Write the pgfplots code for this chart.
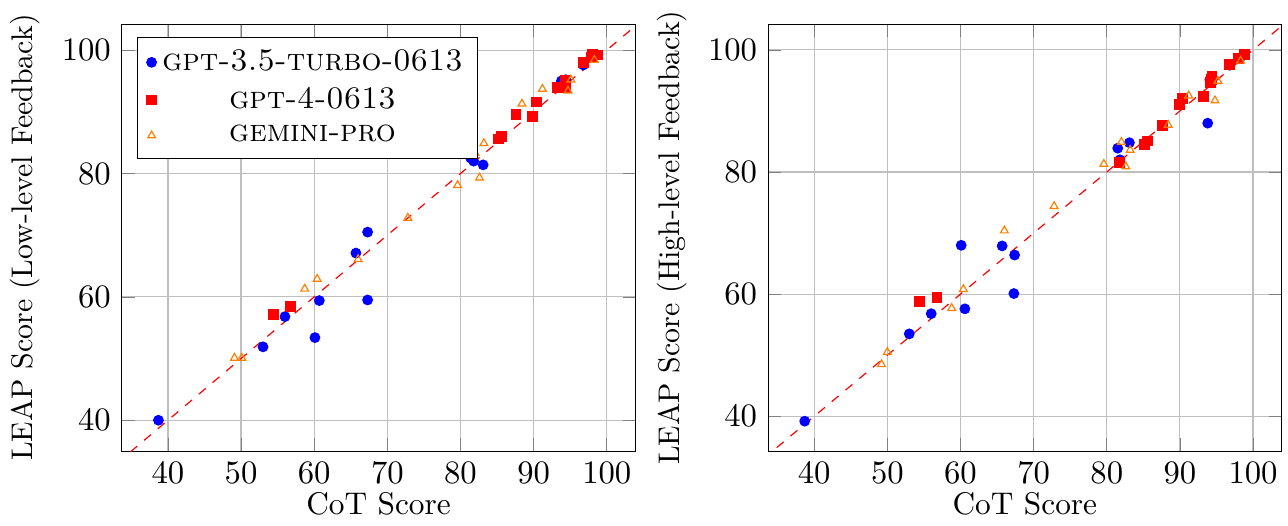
\documentclass[border=0pt]{standalone}
\usepackage{pgfplots}
\pgfplotsset{compat=1.18}

\pgfplotsset{
  leap/.style={
    scale only axis,
    width=172pt, height=143pt,
    xmin=33.7, xmax=103.9,
    xtick={40,50,...,100},
    ytick={40,60,80,100},
    grid=major,
    xlabel={CoT Score},
    xlabel style={yshift=4pt},
    ylabel style={font=\fontsize{10}{12}\selectfont},
    legend cell align=center,
  },
  gpt35/.style={only marks, mark=*, mark size=1.6pt, color=blue},
  gpt4/.style={only marks, mark=square*, mark size=1.6pt, color=red},
  gem/.style={only marks, mark=triangle, mark size=1.5pt, color=orange, mark options={thin}},
}

\begin{document}
\fontsize{10.5}{12.6}\selectfont
\begin{tikzpicture}
% left: low-level feedback
\begin{axis}[leap, ymin=35, ymax=104.2,
  ylabel={LEAP Score (Low-level Feedback)},
  legend pos=north west]
\addplot[gpt35] coordinates {
  (38.7,40.0) (53.0,51.9) (56.0,56.8) (60.1,53.4) (60.7,59.4)
  (67.3,59.5) (65.7,67.1) (67.3,70.5) (81.4,82.5) (81.8,82.0)
  (83.1,81.4) (93.8,95.0) (94.4,95.2) (96.8,97.6) (98.7,99.2)
};
\addplot[gpt4] coordinates {
  (54.4,57.2) (56.8,58.4) (81.7,84.1) (85.2,85.6) (85.6,86.0)
  (87.6,89.6) (89.8,89.3) (90.4,91.6) (93.2,94.0) (94.3,95.1)
  (94.4,94.0) (96.8,98.0) (97.9,98.8) (98.1,99.3) (98.7,99.2)
};
\addplot[gem] coordinates {
  (49.1,50.1) (50.1,50.1) (58.7,61.3) (60.4,62.9) (66.0,66.1)
  (72.8,72.8) (79.6,78.1) (82.0,83.3) (82.6,79.3) (83.2,84.9)
  (88.4,91.3) (91.2,93.7) (94.7,93.4) (95.1,95.2) (98.3,98.4)
};
\addplot[red, dashed, thin, forget plot] coordinates {(33,33) (106,106)};
\legend{\textsc{gpt-3.5-turbo-0613}, \textsc{gpt-4-0613}, \textsc{gemini-pro}}
\end{axis}

% right: high-level feedback
\begin{axis}[leap, xshift=216.5pt, ymin=34.3, ymax=104.2,
  ylabel={LEAP Score (High-level Feedback)}]
\addplot[gpt35] coordinates {
  (38.7,39.2) (53.0,53.5) (56.0,56.8) (60.1,68.0) (60.6,57.6)
  (65.7,67.9) (67.4,66.4) (67.3,60.1) (81.5,83.9) (83.1,84.8)
  (81.8,82.0) (93.8,88.0) (94.1,95.1) (96.8,97.5) (98.7,99.1)
};
\addplot[gpt4] coordinates {
  (54.4,58.8) (56.8,59.5) (81.7,81.6) (85.2,84.5) (85.6,85.1)
  (87.6,87.6) (89.9,91.0) (90.4,92.0) (93.2,92.4) (94.2,94.7)
  (94.4,95.6) (94.3,95.1) (96.8,97.6) (98.0,98.6) (98.8,99.2)
};
\addplot[gem] coordinates {
  (49.2,48.5) (50.0,50.5) (58.8,57.7) (60.4,60.8) (66.0,70.4)
  (72.8,74.4) (79.6,81.3) (82.0,84.9) (82.6,80.9) (83.2,83.6)
  (88.4,87.7) (91.2,92.5) (94.8,91.7) (95.2,94.9) (98.3,98.2)
};
\addplot[red, dashed, thin] coordinates {(33,33) (106,106)};
\end{axis}
\end{tikzpicture}
\end{document}
